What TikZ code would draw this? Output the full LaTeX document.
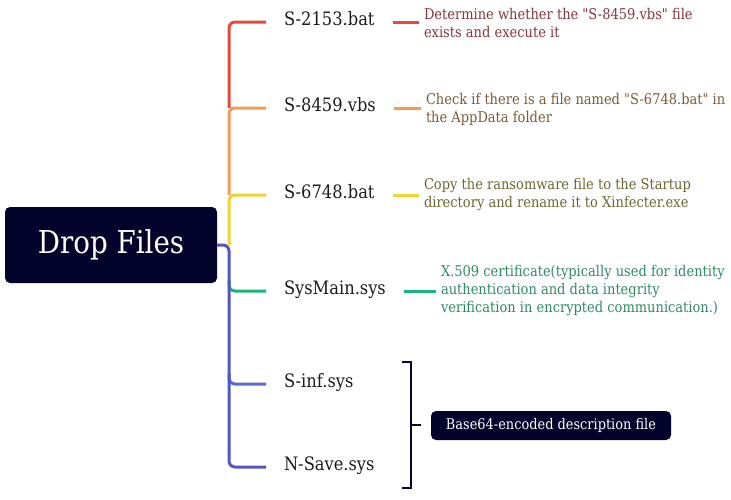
\documentclass[tikz,border=0pt]{standalone}
\usepackage{fontspec}
\setmainfont{DejaVu Serif}[FakeStretch=0.88,Ligatures=TeXOff]
\definecolor{navy}{HTML}{03032B}
\definecolor{cred}{HTML}{E8473C}
\definecolor{corange}{HTML}{F39A55}
\definecolor{cyellow}{HTML}{F2D231}
\definecolor{cgreen}{HTML}{1AB383}
\definecolor{cpurple}{HTML}{5454C4}
\definecolor{cblue}{HTML}{5468E0}
\definecolor{tred}{HTML}{87353A}
\definecolor{torange}{HTML}{7D5A36}
\definecolor{tyellow}{HTML}{6B672E}
\definecolor{tgreen}{HTML}{2E8A63}
\definecolor{tlabel}{HTML}{1C1C1C}
\begin{document}
\begin{tikzpicture}[x=1pt,y=-1pt,
  lbl/.style={anchor=west,inner sep=0pt,outer xsep=18pt,text height=0.72em,text depth=0pt,
    font=\fontsize{18.5}{22}\selectfont,text=tlabel},
  desc/.style={anchor=west,inner sep=0pt,outer xsep=5pt,align=left,
    font=\fontsize{14.8}{18}\selectfont},
  br/.style={line width=3pt,rounded corners=6pt},
  tick/.style={line width=3pt},
  bracket/.style={line width=2.5pt,draw=navy},
  darkbox/.style={fill=navy,rounded corners=5pt,text=white,inner sep=0pt}]
\useasboundingbox (0,0) rectangle (731,499);

% root
\node[darkbox,minimum width=212pt,minimum height=76pt,font=\fontsize{31.5}{36}\selectfont] (root) at (111,245) {Drop Files};

% trunk coordinates
\coordinate (t1) at (229,108);
\coordinate (t2) at (229,195);
\coordinate (tj) at (229,245);
\coordinate (tbot) at (229,467);

% branch labels
\node[lbl] (b1) at (266,22) {S-2153.bat};
\node[lbl] (b2) at (266,108) {S-8459.vbs};
\node[lbl] (b3) at (266,195) {S-6748.bat};
\node[lbl] (b4) at (266,291) {SysMain.sys};
\node[lbl] (b5) at (266,384) {S-inf.sys};
\node[lbl] (b6) at (266,467) {N-Save.sys};

% descriptions
\node[desc,text=tred] (d1) at (419,23) {Determine whether the "S-8459.vbs" file\\exists and execute it};
\node[desc,text=torange] (d2) at (421,109) {Check if there is a file named "S-6748.bat" in\\the AppData folder};
\node[desc,text=tyellow] (d3) at (419,195) {Copy the ransomware file to the Startup\\directory and rename it to Xinfecter.exe};
\node[desc,text=tgreen] (d4) at (436,291) {X.509 certificate(typically used for identity\\authentication and data integrity\\verification in encrypted communication.)};

% side branches off the purple trunk
\draw[br,cgreen] ([yshift=10pt]b4.west -| tj) |- (b4.west);
\draw[br,cblue] ([yshift=10pt]b5.west -| tj) |- (b5.west);
% purple trunk
\draw[br,cpurple] (root.east) -- (tj) -- (tbot) -- (b6.west);
% upper colored segments
\draw[br,cyellow] (b3.west) -| (tj);
\draw[br,corange] (b2.west) -| (t2);
\draw[br,cred] (b1.west) -| (t1);

% label-to-description connectors
\draw[tick,cred] (b1.east) -- (b1.east -| d1.west);
\draw[tick,corange] (b2.east) -- (b2.east -| d2.west);
\draw[tick,cyellow] (b3.east) -- (b3.east -| d3.west);
\draw[tick,cgreen] (b4.east) -- (b4.east -| d4.west);

% bracket
\coordinate (bt) at (402,362);
\coordinate (btr) at (411,362);
\coordinate (bb) at (402,488);
\coordinate (bm) at (411,425);
\coordinate (bme) at (421,425);
\draw[bracket] (bt) -- (btr) |- (bb);
\draw[bracket] (bm) -- (bme);

\node[darkbox,minimum width=240pt,minimum height=29pt,font=\fontsize{14.7}{16}\selectfont] (b64) at (551,425.5) {Base64-encoded description file};
\end{tikzpicture}
\end{document}
